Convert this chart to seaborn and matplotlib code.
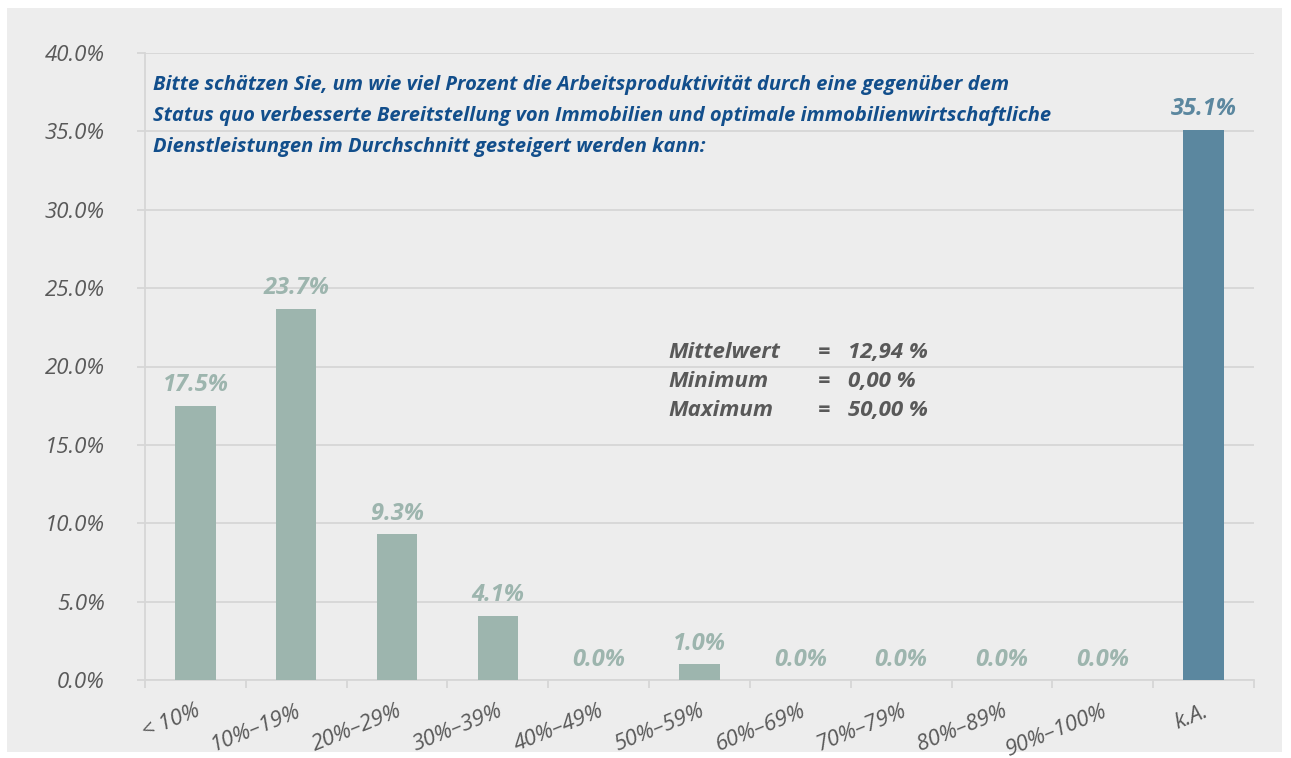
import matplotlib.pyplot as plt
import matplotlib.transforms as mtrans
import seaborn as sns
from matplotlib.patches import Rectangle
from matplotlib.ticker import FixedLocator

categories = ['< 10%', '10%–19%', '20%–29%', '30%–39%', '40%–49%', '50%–59%',
              '60%–69%', '70%–79%', '80%–89%', '90%–100%', 'k.A.']
shares = [17.5, 23.7, 9.3, 4.1, 0.0, 1.0, 0.0, 0.0, 0.0, 0.0, 35.1]
y_ticks = [0, 5, 10, 15, 20, 25, 30, 35, 40]

question = ('Bitte schätzen Sie, um wie viel Prozent die Arbeitsproduktivität durch eine gegenüber dem\n'
            'Status quo verbesserte Bereitstellung von Immobilien und optimale immobilienwirtschaftliche\n'
            'Dienstleistungen im Durchschnitt gesteigert werden kann:')
stat_names = ['Mittelwert', 'Minimum', 'Maximum']
stat_values = ['12,94 %', '0,00 %', '50,00 %']

GREEN = '#9db5ae'
BLUE = '#5b879f'
PANEL = '#ededed'
GRID = '#d6d6d6'
TEXT = '#595959'
NAVY = '#124e8b'

sns.set_style('white')
plt.rcParams['font.family'] = ['Open Sans', 'DejaVu Sans']

fig = plt.figure(figsize=(12.91, 7.58), dpi=100)
fig.patch.set_facecolor('white')
# grey panel behind the chart
fig.patches.append(Rectangle((7 / 1291, 1 - 752 / 758), 1275 / 1291, 744 / 758,
                             transform=fig.transFigure, facecolor=PANEL,
                             edgecolor='none', zorder=-10))

ax = fig.add_axes([145 / 1291, 1 - 680 / 758, 1109 / 1291, 627 / 758])
ax.patch.set_visible(False)

colors = [GREEN] * (len(categories) - 1) + [BLUE]
sns.barplot(x=categories, y=shares, hue=categories, palette=colors,
            legend=False, width=0.4, saturation=1, linewidth=0, ax=ax, zorder=3)

# small shift to the left, like the italic labels in the original
shift = mtrans.ScaledTranslation(-6 / 100, 0, fig.dpi_scale_trans)
for container, col in zip(ax.containers, colors):
    texts = ax.bar_label(container, labels=[f'{v:.1f}%' for v in container.datavalues],
                         padding=6, color=col, fontsize=17, fontweight='bold',
                         fontstyle='italic')
    for t in texts:
        t.set_transform(t.get_transform() + shift)

ax.set_xlim(-0.5, len(categories) - 0.5)
ax.set_ylim(0, 40)
ax.set_yticks(y_ticks)
ax.set_yticklabels([f'{t:.1f}%' for t in y_ticks], fontsize=16,
                   fontstyle='italic', color=TEXT)
ax.yaxis.grid(True, color=GRID, linewidth=1.3, zorder=0)
ax.set_axisbelow(True)

ax.set_xticks(range(len(categories)))
ax.set_xticklabels(categories, rotation=22, ha='right', rotation_mode='anchor',
                   fontsize=16, fontstyle='italic', color=TEXT)
for lbl in ax.get_xticklabels():
    lbl.set_transform(lbl.get_transform() + shift)
ax.xaxis.set_minor_locator(FixedLocator([i - 0.5 for i in range(len(categories) + 1)]))
ax.tick_params(axis='x', which='major', bottom=True, length=0, pad=15)
ax.tick_params(axis='x', which='minor', bottom=True, length=5.8, color=GRID, width=1.3)
ax.tick_params(axis='y', which='major', left=True, length=5.8, color=GRID, width=1.3, pad=23)

for side in ['top', 'right']:
    ax.spines[side].set_visible(False)
for side in ['left', 'bottom']:
    ax.spines[side].set_color(GRID)
    ax.spines[side].set_linewidth(1.3)

ax.text(0.007, 0.965, question, transform=ax.transAxes, ha='left', va='top',
        fontsize=14.5, fontweight='bold', fontstyle='italic', color=NAVY,
        linespacing=1.75)

for i, (name, val) in enumerate(zip(stat_names, stat_values)):
    y = 0.523 - i * 0.0463
    ax.text(0.4716, y, name, transform=ax.transAxes, ha='left', va='center',
            fontsize=16, fontweight='bold', fontstyle='italic', color=TEXT)
    ax.text(0.607, y, '=', transform=ax.transAxes, ha='left', va='center',
            fontsize=16, fontweight='bold', fontstyle='italic', color=TEXT)
    ax.text(0.634, y, val, transform=ax.transAxes, ha='left', va='center',
            fontsize=16, fontweight='bold', fontstyle='italic', color=TEXT)

fig.savefig('out.png', dpi=100)
